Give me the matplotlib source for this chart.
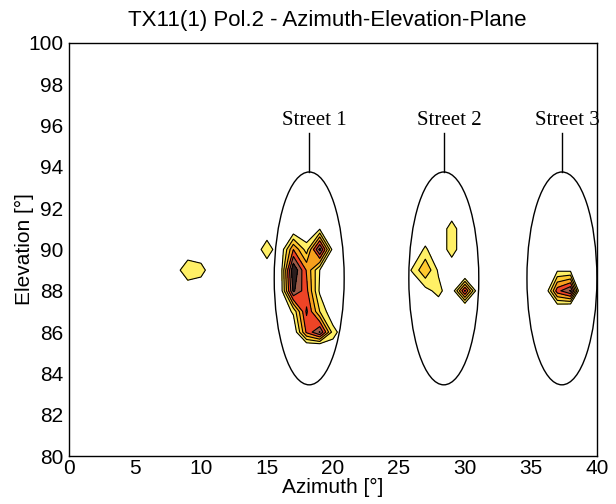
import numpy as np
import matplotlib
matplotlib.use("Agg")
import matplotlib.pyplot as plt
from matplotlib.patches import Ellipse

plt.rcParams['font.family'] = ['Liberation Sans', 'DejaVu Sans']

# measurement grid (degrees)
azimuth = np.arange(0, 41, 1)
elevation = np.arange(80, 101, 1)

# received power at the grid cells that carry energy, everything else is floor (0)
peak_az = [8, 9, 10, 15,
           17, 18, 19, 20,
           16, 17, 18, 19, 20,
           16, 17, 18, 19,
           16, 17, 18, 19, 20,
           17, 18, 19, 20,
           18, 19, 18, 19,
           29, 29, 26, 27, 28, 27, 28, 27,
           30, 30, 30, 29,
           36, 37, 38, 39, 37, 38, 37, 38]
peak_el = [89, 89, 89, 90,
           91, 91, 91, 91,
           90, 90, 90, 90, 90,
           89, 89, 89, 89,
           88, 88, 88, 88, 87,
           87, 87, 87, 86,
           86, 86, 85, 85,
           91, 90, 89, 89, 88, 90, 89, 88,
           88, 89, 87, 88,
           88, 88, 88, 88, 89, 89, 87, 87]
peak_val = [0.3, 1.95, 1.5, 1.8,
            0.0, 0.0, 0.9, 0.0,
            0.0, 4.0, 1.5, 6.3, 0.5,
            0.1, 7.0, 3.9, 1.0,
            0.1, 6.2, 4.3, 0.8, 0.0,
            1.2, 5.2, 2.0, 1.5,
            4.2, 6.1, -2.0, -3.0,
            1.6, 1.6, 1.1, 2.9, 1.4, 1.2, 0.8, 0.6,
            5.2, -1.8, -1.8, 0.0,
            -0.5, 4.6, 6.1, -2.4, 0.8, 0.7, -1.0, -1.9]

levels = [1, 2, 3, 4, 5, 6, 100]
colors = ['#fff066', '#ffc92e', '#f7a01e', '#ee4426', '#9c5a47', '#2b1d1d']

streets = ['Street 1', 'Street 2', 'Street 3']
street_az = [18.2, 28.4, 37.35]
street_el = 88.6
street_w = 5.3
street_h = 10.3

power = np.zeros((len(elevation), len(azimuth)))
for a, e, v in zip(peak_az, peak_el, peak_val):
    power[e - 80, a] = v

fig = plt.figure(figsize=(6.16, 5.04), dpi=100)
ax = fig.add_axes([0.112, 0.095, 0.857, 0.820])

ax.contourf(azimuth, elevation, power, levels=levels, colors=colors)
ax.contour(azimuth, elevation, power, levels=levels[:-1], colors='black', linewidths=0.8)

for name, x in zip(streets, street_az):
    ax.add_patch(Ellipse((x, street_el), street_w, street_h, fill=False,
                         edgecolor='black', linewidth=1.0))
    top = street_el + street_h / 2
    ax.plot([x, x], [top, top + 1.9], color='black', linewidth=1.0)
    ax.text(x + 0.4, top + 2.5, name, family='Liberation Serif', fontsize=15,
            ha='center', va='center')

ax.set_xlim(0, 40)
ax.set_ylim(80, 100)
ax.set_xticks(np.arange(0, 41, 5))
ax.set_yticks(np.arange(80, 101, 2))
ax.tick_params(length=0, labelsize=15, pad=4)
ax.tick_params(axis='x', pad=2)
ax.set_xlabel('Azimuth [°]', fontsize=15, labelpad=0)
ax.set_ylabel('Elevation [°]', fontsize=15, labelpad=-4)
ax.set_title('TX11(1) Pol.2 - Azimuth-Elevation-Plane', fontsize=16, pad=12, x=0.49)
for sp in ax.spines.values():
    sp.set_linewidth(1.0)

fig.savefig('out.png', dpi=100)
